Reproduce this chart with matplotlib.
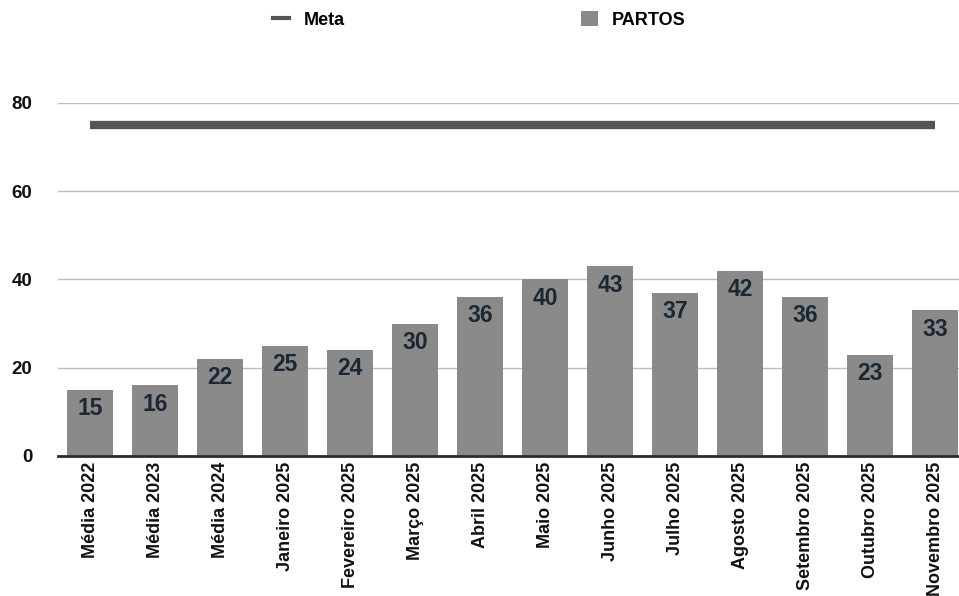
import matplotlib
matplotlib.use("Agg")
import matplotlib.pyplot as plt
from matplotlib.lines import Line2D
from matplotlib.patches import Patch

categories = ["Média 2022", "Média 2023", "Média 2024", "Janeiro 2025", "Fevereiro 2025",
              "Março 2025", "Abril 2025", "Maio 2025", "Junho 2025", "Julho 2025",
              "Agosto 2025", "Setembro 2025", "Outubro 2025", "Novembro 2025"]
partos = [15, 16, 22, 25, 24, 30, 36, 40, 43, 37, 42, 36, 23, 33]
meta = [75] * len(categories)
y_ticks = [0, 20, 40, 60, 80]

plt.rcParams['font.family'] = ['Liberation Sans', 'DejaVu Sans']

fig = plt.figure(figsize=(9.59, 5.96), dpi=100)
ax = fig.add_axes([0.060, 0.2349, 0.949, 0.5923])

x = list(range(len(categories)))
bar_color = "#8a8a8a"
bars = ax.bar(x, partos, width=0.71, color=bar_color, zorder=2)
ax.plot(x, meta, color="#555555", linewidth=6, solid_capstyle='butt', zorder=3)

for xi, v in zip(x, partos):
    ax.annotate(str(v), (xi, v), xytext=(0, -13.5), textcoords='offset points',
                ha='center', va='center', fontsize=16.5, fontweight='bold',
                color="#1b2733", zorder=4)

ax.set_xlim(-0.5, len(categories) - 0.5)
ax.set_ylim(0, 80)
ax.set_yticks(y_ticks)
ax.set_yticklabels([str(t) for t in y_ticks], fontsize=13.5, fontweight='bold', color="#111111")
ax.set_xticks(x)
ax.set_xticklabels(categories, rotation=90, fontsize=13, fontweight='bold', color="#111111")
ax.tick_params(axis='both', length=0)
ax.tick_params(axis='x', pad=4)
ax.tick_params(axis='y', pad=18)
ax.grid(axis='y', color="#bdbdbd", linewidth=1.0, zorder=0)
ax.set_axisbelow(True)
for s in ['top', 'right', 'left']:
    ax.spines[s].set_visible(False)
ax.spines['bottom'].set_color("#2b2b2b")
ax.spines['bottom'].set_linewidth(2)
ax.spines['bottom'].set_zorder(5)

handles = [Line2D([0], [0], color="#555555", linewidth=3),
           Patch(facecolor=bar_color, edgecolor='none')]
leg = fig.legend(handles, ["Meta", "PARTOS"], loc='center', bbox_to_anchor=(0.500, 0.966),
                 ncol=2, frameon=False, prop={'weight': 'bold', 'size': 13},
                 columnspacing=13.1, handlelength=0.9, handleheight=0.9, handletextpad=0.8)

fig.savefig("out.png", dpi=100)
